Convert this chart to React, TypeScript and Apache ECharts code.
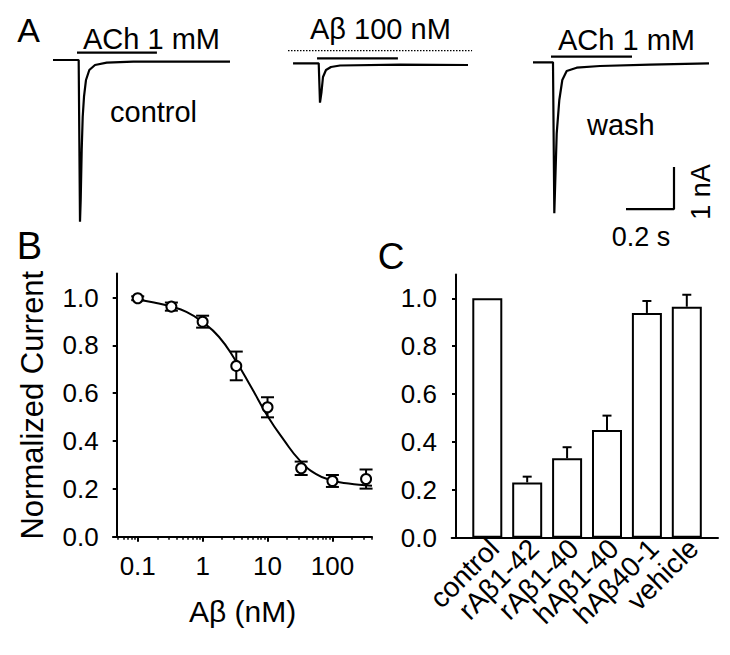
import React, { useEffect, useRef } from "react";
import * as echarts from "echarts";

const FONT = "'Liberation Sans', Arial, Helvetica, sans-serif";

// ---------- Panel A: current traces (time in s, current in nA) ----------
const controlTime = [0, 0.107, 0.1125, 0.1154, 0.1196, 0.1238, 0.1292, 0.1375, 0.1513, 0.175, 0.2238, 0.3346, 0.571, 0.7375];
const controlCurrent = [0, 0, -3.85, -3.33, -2.14, -1.35, -0.874, -0.476, -0.238, -0.119, -0.064, -0.04, -0.036, -0.04];

const abetaTime = [0.021, 0.128, 0.1333, 0.1396, 0.1458, 0.1583, 0.179, 0.2167, 0.4667, 0.75];
const abetaCurrent = [-0.079, -0.079, -1.017, -0.762, -0.405, -0.238, -0.167, -0.131, -0.112, -0.119];

const washTime = [0, 0.0833, 0.0888, 0.0988, 0.1096, 0.1221, 0.1404, 0.182, 0.279, 0.4875, 0.7333];
const washCurrent = [-0.055, -0.055, -3.65, -1.745, -0.952, -0.476, -0.262, -0.183, -0.143, -0.112, -0.079];

// application bars [start s, end s, level nA]
const controlAChBar = [0.1, 0.433, 0.174];
const abetaAChBar = [0.121, 0.458, 0.04];
const abetaDotted = [0, 0.767, 0.221];
const washAChBar = [0.075, 0.4125, 0.079];
// scale bar: 0.2 s, 1 nA
const scaleBarTime = [0.3875, 0.5875, 0.5875];
const scaleBarCurrent = [-3.55, -3.55, -2.55];

// ---------- Panel B: concentration-response ----------
const bConc = [0.1, 0.33, 1, 3.3, 10, 33, 100, 330];
const bMean = [0.997, 0.962, 0.899, 0.714, 0.541, 0.286, 0.233, 0.241];
const bSem = [0.008, 0.017, 0.025, 0.06, 0.042, 0.028, 0.025, 0.04];
const fitConc = [0.1, 0.178, 0.316, 0.562, 1, 1.78, 3.16, 5.62, 10, 17.8, 31.6, 56.2, 100, 178, 316, 407];
const fitValue = [0.992, 0.979, 0.963, 0.94, 0.897, 0.836, 0.74, 0.625, 0.505, 0.405, 0.318, 0.262, 0.235, 0.222, 0.215, 0.213];
const bTickConc = [0.1, 1, 10, 100];
const bTickLabels = ["0.1", "1", "10", "100"];
const bMinorConc = [0.05, 0.06, 0.07, 0.08, 0.09, 0.2, 0.3, 0.4, 0.5, 0.6, 0.7, 0.8, 0.9, 2, 3, 4, 5, 6, 7, 8, 9, 20, 30, 40, 50, 60, 70, 80, 90, 200, 300, 400];
const yTicks = [0, 0.2, 0.4, 0.6, 0.8, 1.0];

// ---------- Panel C: bar chart ----------
const cCategories = ["control", "rAβ1-42", "rAβ1-40", "hAβ1-40", "hAβ40-1", "vehicle"];
const cMean = [1.0, 0.231, 0.332, 0.45, 0.939, 0.965];
const cSem = [0, 0.024, 0.046, 0.06, 0.05, 0.05];

const BLACK = "#000";
const C_LABEL_SHIFT = 0.17;

function traceGrid(left: number, width: number) {
  return { left, top: 39, width, height: 189, outerBoundsMode: "none", containLabel: false };
}

function hiddenX(grid: number, max: number) {
  return { type: "value", gridIndex: grid, min: 0, max, show: false };
}
function hiddenY(grid: number) {
  return { type: "value", gridIndex: grid, min: -4, max: 0.5, show: false };
}

function lineSeries(xi: number, data: number[][], extra: any = {}) {
  return {
    type: "line",
    xAxisIndex: xi,
    yAxisIndex: xi,
    data,
    showSymbol: false,
    symbol: "none",
    lineStyle: { color: BLACK, width: 2.2, ...(extra.lineStyle || {}) },
    silent: true,
    z: 3,
  };
}

export default function App() {
  const ref = useRef<HTMLDivElement>(null);

  useEffect(() => {
    document.body.style.margin = "0";
    if (!ref.current) return;
    const chart = echarts.init(ref.current, undefined, { renderer: "svg" });

    const zip = (a: number[], b: number[]) => a.map((v, i) => [v, b[i]]);
    const barLine = (b: number[]) => [[b[0], b[2]], [b[1], b[2]]];

    const bMajorLog = bTickConc.map((c) => Math.log10(c));
    const bMinorLog = bMinorConc.map((c) => Math.log10(c));
    const cLabelPos = cCategories.map((_, i) => i + C_LABEL_SHIFT);

    const tickLabelStyle = { color: BLACK, fontFamily: FONT, fontSize: 26 };

    const option: any = {
      animation: false,
      backgroundColor: "#fff",
      textStyle: { fontFamily: FONT, color: BLACK },
      grid: [
        traceGrid(53, 177),
        traceGrid(288, 184),
        traceGrid(533, 177),
        { left: 113, top: 273.6, width: 259, height: 263.1, outerBoundsMode: "none", containLabel: false },
        { left: 451.7, top: 274.4, width: 266.3, height: 263.3, outerBoundsMode: "none", containLabel: false },
      ],
      xAxis: [
        hiddenX(0, 177 / 240),
        hiddenX(1, 184 / 240),
        hiddenX(2, 177 / 240),
        {
          type: "value",
          gridIndex: 3,
          position: "bottom",
          min: -1.381,
          max: 2.61,
          splitLine: { show: false },
          axisLine: { onZero: false, lineStyle: { color: BLACK, width: 2 } },
          axisTick: { customValues: bMajorLog, length: 5, lineStyle: { color: BLACK, width: 2 } },
          axisLabel: {
            customValues: bMajorLog,
            margin: 16,
            ...tickLabelStyle,
            formatter: (v: number) => {
              const i = bMajorLog.findIndex((m) => Math.abs(m - v) < 1e-6);
              return i >= 0 ? bTickLabels[i] : "";
            },
          },
          name: "Aβ (nM)",
          nameLocation: "middle",
          nameGap: 60,
          nameTextStyle: { color: BLACK, fontFamily: FONT, fontSize: 30 },
        },
        {
          type: "value",
          gridIndex: 3,
          position: "bottom",
          min: -1.381,
          max: 2.61,
          splitLine: { show: false },
          axisLine: { show: false, onZero: false },
          axisTick: { customValues: bMinorLog, length: 3, lineStyle: { color: BLACK, width: 1.5 } },
          axisLabel: { show: false },
        },
        {
          type: "value",
          gridIndex: 4,
          position: "bottom",
          min: -0.892,
          max: 5.782,
          splitLine: { show: false },
          axisLine: { onZero: false, lineStyle: { color: BLACK, width: 2 } },
          axisTick: { show: false },
          axisLabel: {
            customValues: cLabelPos,
            rotate: 45,
            margin: 6,
            color: BLACK,
            fontFamily: FONT,
            fontSize: 28,
            formatter: (v: number) => cCategories[Math.round(v - C_LABEL_SHIFT)] ?? "",
          },
        },
      ],
      yAxis: [
        hiddenY(0),
        hiddenY(1),
        hiddenY(2),
        {
          type: "value",
          gridIndex: 3,
          min: 0,
          max: 1.1,
          offset: -3.7,
          splitLine: { show: false },
          axisLine: { onZero: false, lineStyle: { color: BLACK, width: 2 } },
          axisTick: { customValues: yTicks, length: 4, lineStyle: { color: BLACK, width: 2 } },
          axisLabel: {
            customValues: yTicks,
            margin: 18,
            ...tickLabelStyle,
            formatter: (v: number) => v.toFixed(1),
          },
          name: "Normalized Current",
          nameLocation: "middle",
          nameRotate: 90,
          nameGap: 69,
          nameTextStyle: { color: BLACK, fontFamily: FONT, fontSize: 31 },
        },
        {
          type: "value",
          gridIndex: 4,
          min: 0,
          max: 1.1,
          offset: -4.3,
          splitLine: { show: false },
          axisLine: { onZero: false, lineStyle: { color: BLACK, width: 2 } },
          axisTick: { customValues: yTicks, length: 4, lineStyle: { color: BLACK, width: 2 } },
          axisLabel: {
            customValues: yTicks,
            margin: 19,
            ...tickLabelStyle,
            formatter: (v: number) => v.toFixed(1),
          },
        },
      ],
      series: [
        // Panel A traces
        lineSeries(0, zip(controlTime, controlCurrent)),
        lineSeries(0, barLine(controlAChBar)),
        lineSeries(1, zip(abetaTime, abetaCurrent)),
        lineSeries(1, barLine(abetaAChBar)),
        lineSeries(1, barLine(abetaDotted), { lineStyle: { type: [1.5, 1.5], width: 1.2 } }),
        lineSeries(2, zip(washTime, washCurrent)),
        lineSeries(2, barLine(washAChBar)),
        lineSeries(2, zip(scaleBarTime, scaleBarCurrent)),
        // Panel B fit curve
        {
          type: "line",
          xAxisIndex: 3,
          yAxisIndex: 3,
          data: fitConc.map((c, i) => [Math.log10(c), fitValue[i]]),
          showSymbol: false,
          symbol: "none",
          smooth: true,
          lineStyle: { color: BLACK, width: 2 },
          z: 2,
        },
        // Panel B error bars
        {
          type: "custom",
          xAxisIndex: 3,
          yAxisIndex: 3,
          data: bConc.map((c, i) => [Math.log10(c), bMean[i] - bSem[i], bMean[i] + bSem[i]]),
          encode: { x: 0, y: [1, 2] },
          z: 3,
          renderItem: (params: any, api: any) => {
            const x = api.value(0);
            const lo = api.coord([x, api.value(1)]);
            const hi = api.coord([x, api.value(2)]);
            const w = 6.5;
            const st = { stroke: BLACK, lineWidth: 2 };
            return {
              type: "group",
              children: [
                { type: "line", shape: { x1: lo[0], y1: lo[1], x2: hi[0], y2: hi[1] }, style: st },
                { type: "line", shape: { x1: lo[0] - w, y1: lo[1], x2: lo[0] + w, y2: lo[1] }, style: st },
                { type: "line", shape: { x1: hi[0] - w, y1: hi[1], x2: hi[0] + w, y2: hi[1] }, style: st },
              ],
            };
          },
        },
        // Panel B points
        {
          type: "scatter",
          xAxisIndex: 3,
          yAxisIndex: 3,
          data: bConc.map((c, i) => [Math.log10(c), bMean[i]]),
          symbol: "circle",
          symbolSize: 10,
          itemStyle: { color: "#fff", borderColor: BLACK, borderWidth: 2, opacity: 1 },
          z: 4,
        },
        // Panel C bars
        {
          type: "bar",
          xAxisIndex: 5,
          yAxisIndex: 4,
          data: cMean.map((v, i) => [i, v]),
          barWidth: 30,
          itemStyle: { color: "#fff", borderColor: BLACK, borderWidth: 2 },
          z: 2,
        },
        // Panel C error bars (upper only)
        {
          type: "custom",
          xAxisIndex: 5,
          yAxisIndex: 4,
          data: cMean
            .map((v, i) => [i, v, v + cSem[i]])
            .filter((d, i) => cSem[i] > 0),
          encode: { x: 0, y: [1, 2] },
          z: 3,
          renderItem: (params: any, api: any) => {
            const x = api.value(0);
            const lo = api.coord([x, api.value(1)]);
            const hi = api.coord([x, api.value(2)]);
            const w = 4.5;
            const st = { stroke: BLACK, lineWidth: 2 };
            return {
              type: "group",
              children: [
                { type: "line", shape: { x1: lo[0], y1: lo[1], x2: hi[0], y2: hi[1] }, style: st },
                { type: "line", shape: { x1: hi[0] - w, y1: hi[1], x2: hi[0] + w, y2: hi[1] }, style: st },
              ],
            };
          },
        },
      ],
      graphic: [
        { type: "text", x: 28.5, y: 30, style: { text: "A", fontSize: 34, fontFamily: FONT, fill: BLACK, align: "center", verticalAlign: "middle" } },
        { type: "text", x: 29.5, y: 245.5, style: { text: "B", fontSize: 38, fontFamily: FONT, fill: BLACK, align: "center", verticalAlign: "middle" } },
        { type: "text", x: 391, y: 256.5, style: { text: "C", fontSize: 37, fontFamily: FONT, fill: BLACK, align: "center", verticalAlign: "middle" } },
        { type: "text", x: 83, y: 39, style: { text: "ACh 1 mM", fontSize: 29, fontFamily: FONT, fill: BLACK, align: "left", verticalAlign: "middle" } },
        { type: "text", x: 110, y: 111.5, style: { text: "control", fontSize: 29, fontFamily: FONT, fill: BLACK, align: "left", verticalAlign: "middle" } },
        { type: "text", x: 310, y: 29, style: { text: "Aβ 100 nM", fontSize: 29, fontFamily: FONT, fill: BLACK, align: "left", verticalAlign: "middle" } },
        { type: "text", x: 558, y: 40, style: { text: "ACh 1 mM", fontSize: 29, fontFamily: FONT, fill: BLACK, align: "left", verticalAlign: "middle" } },
        { type: "text", x: 587, y: 125, style: { text: "wash", fontSize: 29, fontFamily: FONT, fill: BLACK, align: "left", verticalAlign: "middle" } },
        { type: "text", x: 641, y: 237, style: { text: "0.2 s", fontSize: 27, fontFamily: FONT, fill: BLACK, align: "center", verticalAlign: "middle" } },
        { type: "text", x: 701, y: 192, rotation: Math.PI / 2, style: { text: "1 nA", fontSize: 27, fontFamily: FONT, fill: BLACK, align: "center", verticalAlign: "middle" } },
      ],
    };

    chart.setOption(option);
    return () => {
      chart.dispose();
    };
  }, []);

  return <div ref={ref} style={{ width: 730, height: 655 }} />;
}
